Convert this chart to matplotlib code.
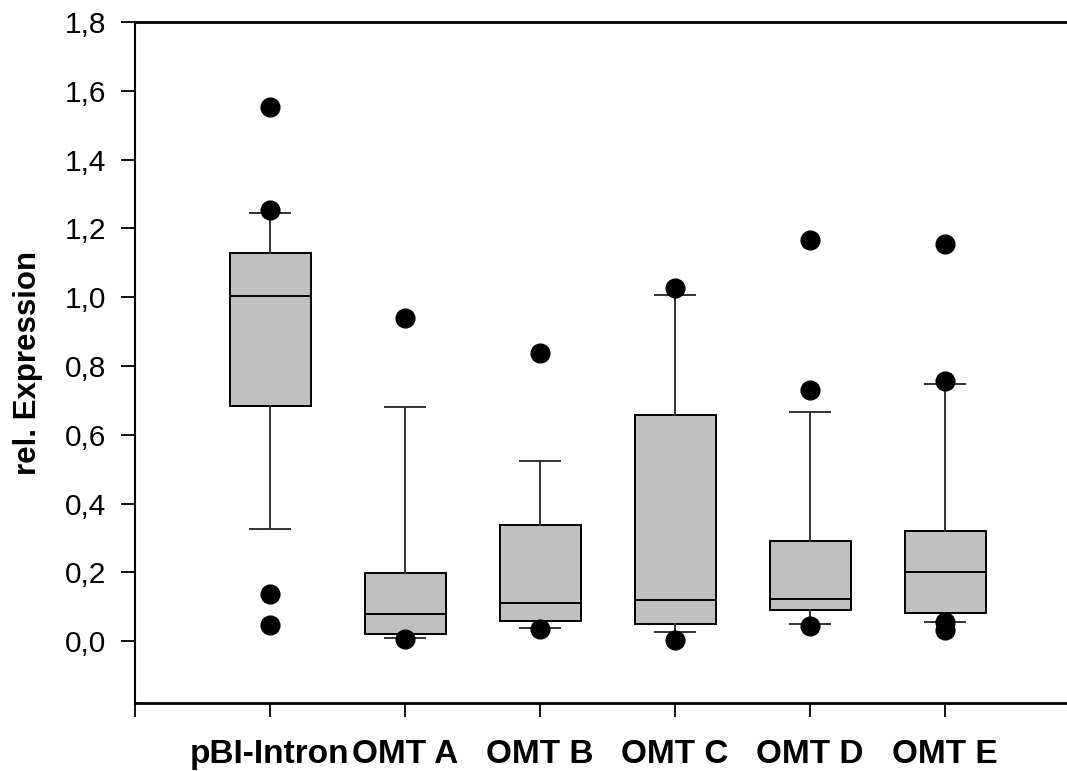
import matplotlib
matplotlib.use('Agg')
import matplotlib.pyplot as plt
from matplotlib.ticker import FuncFormatter

# values
groups = ['pBI-Intron', 'OMT A', 'OMT B', 'OMT C', 'OMT D', 'OMT E']
q1 = [0.683, 0.022, 0.058, 0.051, 0.089, 0.083]
med = [1.002, 0.080, 0.111, 0.120, 0.122, 0.202]
q3 = [1.127, 0.198, 0.337, 0.658, 0.292, 0.321]
whis_lo = [0.325, 0.008, 0.039, 0.027, 0.050, 0.055]
whis_hi = [1.245, 0.680, 0.524, 1.007, 0.667, 0.748]
outliers = [
    [1.553, 1.252, 0.137, 0.047],
    [0.938, 0.005],
    [0.837, 0.035],
    [1.028, 0.004],
    [1.167, 0.729, 0.045],
    [1.155, 0.756, 0.055, 0.031],
]
yticks = [0.0, 0.2, 0.4, 0.6, 0.8, 1.0, 1.2, 1.4, 1.6, 1.8]

plt.rcParams['font.family'] = ['Liberation Sans', 'DejaVu Sans']

fig = plt.figure(figsize=(10.67, 7.71), dpi=100)
# right edge of the frame runs past the picture in the original
ax = fig.add_axes([135/1067, 68/771, 945/1067, 681/771])

stats = []
for i in range(len(groups)):
    stats.append(dict(label=groups[i], q1=q1[i], med=med[i], q3=q3[i],
                      whislo=whis_lo[i], whishi=whis_hi[i], fliers=outliers[i]))

ax.bxp(stats, positions=range(1, len(groups)+1), widths=0.6, patch_artist=True,
       boxprops=dict(facecolor='#c0c0c0', edgecolor='black', linewidth=1.4),
       medianprops=dict(color='black', linewidth=1.4),
       whiskerprops=dict(color='#333333', linewidth=1.4),
       capprops=dict(color='#333333', linewidth=1.4),
       capwidths=0.29,
       flierprops=dict(marker='o', markerfacecolor='black', markeredgecolor='black',
                       markersize=13.5, linestyle='none'))

ax.set_xlim(0, 7)
ax.set_ylim(-0.18, 1.8)
ax.set_yticks(yticks)
ax.yaxis.set_major_formatter(FuncFormatter(lambda v, p: ('%.1f' % v).replace('.', ',')))
ax.set_xticks(range(0, len(groups)+1))
ax.set_xticklabels([''] + groups, fontweight='bold', fontsize=24)

ax.tick_params(axis='y', direction='out', length=10, width=1.3, labelsize=21.5, pad=11)
ax.tick_params(axis='x', direction='out', length=10, width=1.3, pad=16)

ax.spines['right'].set_visible(False)
ax.spines['top'].set_linewidth(2)
ax.spines['bottom'].set_linewidth(2)
ax.spines['left'].set_linewidth(1.5)

ax.set_ylabel('rel. Expression', fontweight='bold', fontsize=22.5, labelpad=15)

fig.savefig('out.png', dpi=100)
